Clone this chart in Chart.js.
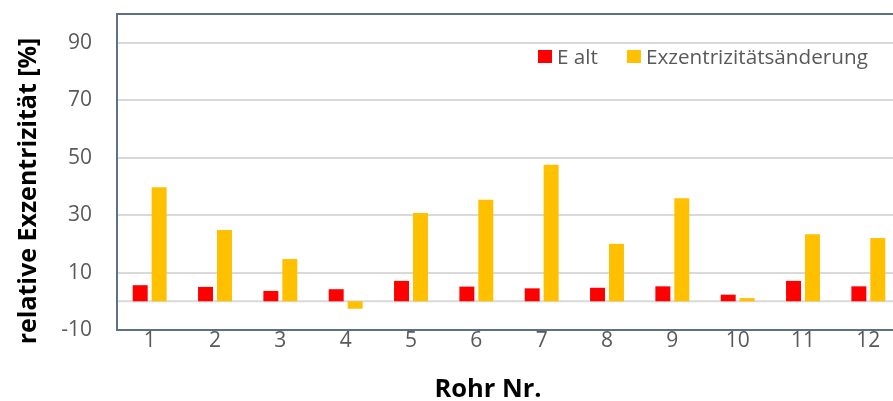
<!DOCTYPE html>
<html>
<head>
<meta charset="utf-8">
<script src="https://cdn.jsdelivr.net/npm/chart.js@4/dist/chart.umd.min.js"></script>
<style>
html,body{margin:0;padding:0;background:#fff;overflow:hidden;}
#wrap{width:901px;height:401px;position:relative;}
</style>
</head>
<body>
<div id="wrap"><canvas id="c"></canvas></div>
<script>
const categories = ['1','2','3','4','5','6','7','8','9','10','11','12'];
const eAlt = [5.6, 5.0, 3.6, 4.2, 7.1, 5.1, 4.5, 4.7, 5.2, 2.3, 7.1, 5.2];
const exzAenderung = [39.7, 24.8, 14.7, -2.6, 30.7, 35.3, 47.5, 20.0, 35.9, 1.1, 23.3, 22.0];
const yTicks = [-10, 10, 30, 50, 70, 90];
const seriesNames = ['E alt', 'Exzentrizitätsänderung'];
const xTitle = 'Rohr Nr.';
const yTitle = 'relative Exzentrizität [%]';

const FONT = '"Open Sans"';
const frame = {
  id: 'frame',
  beforeDatasetsDraw(chart) {
    const {ctx, chartArea:a, scales:{y}} = chart;
    const z = y.getPixelForValue(0);
    ctx.save();
    ctx.strokeStyle = '#d9d9d9';
    ctx.lineWidth = 2;
    ctx.beginPath(); ctx.moveTo(a.left, z); ctx.lineTo(a.right, z); ctx.stroke();
    ctx.restore();
  },
  afterDraw(chart) {
    const {ctx, chartArea:a} = chart;
    ctx.save();
    ctx.strokeStyle = '#5f6f88';
    ctx.lineWidth = 2;
    ctx.beginPath();
    ctx.moveTo(a.right + 5, a.top);
    ctx.lineTo(a.left, a.top);
    ctx.lineTo(a.left, a.bottom);
    ctx.lineTo(a.right + 5, a.bottom);
    ctx.stroke();
    // legend
    ctx.font = '20.7px ' + FONT;
    ctx.textBaseline = 'middle';
    ctx.textAlign = 'left';
    let x = a.left + 421;
    const yc = a.top + 43;
    chart.data.datasets.forEach((ds, i) => {
      ctx.fillStyle = ds.backgroundColor;
      ctx.fillRect(x, yc - 7, 14, 13);
      x += 19;
      ctx.fillStyle = '#595959';
      ctx.fillText(ds.label, x, yc + 1);
      x += ctx.measureText(ds.label).width + 29;
    });
    // axis titles
    ctx.fillStyle = '#000';
    ctx.textAlign = 'center';
    ctx.font = 'bold 25.5px ' + FONT;
    ctx.fillText(xTitle, a.left + 371, a.bottom + 60);
    ctx.translate(29, a.top + 177);
    ctx.rotate(-Math.PI / 2);
    ctx.font = 'bold 25px ' + FONT;
    ctx.fillText(yTitle, 0, 0);
    ctx.restore();
  }
};

new Chart(document.getElementById('c'), {
  type: 'bar',
  data: {
    labels: categories,
    datasets: [
      {label: seriesNames[0], data: eAlt, backgroundColor: '#ff0000', categoryPercentage: 0.58, barPercentage: 0.79},
      {label: seriesNames[1], data: exzAenderung, backgroundColor: '#ffc000', categoryPercentage: 0.58, barPercentage: 0.79}
    ]
  },
  options: {
    responsive: true,
    maintainAspectRatio: false,
    animation: false,
    layout: {padding: {top: 14, left: 0, right: 0, bottom: 0}},
    plugins: {legend: {display: false}, tooltip: {enabled: false}},
    scales: {
      x: {
        grid: {display: false, drawTicks: false},
        border: {display: false},
        ticks: {color: '#595959', font: {family: FONT, size: 21}, padding: -2, maxRotation: 0},
        afterFit(s) { s.height = 71; s.paddingLeft = 0; s.paddingRight = 0; }
      },
      y: {
        min: -10, max: 100,
        afterBuildTicks(s) { s.ticks = yTicks.map(v => ({value: v})); },
        grid: {color: '#d9d9d9', lineWidth: 2, drawTicks: false},
        border: {display: false},
        ticks: {color: '#595959', font: {family: FONT, size: 21}, padding: 25},
        afterFit(s) { s.width = 117; s.paddingTop = 0; s.paddingBottom = 0; }
      }
    }
  },
  plugins: [frame]
});
</script>
</body>
</html>
